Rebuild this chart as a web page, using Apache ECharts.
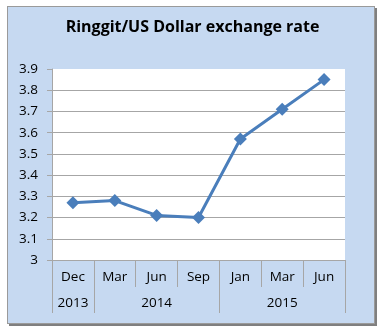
<!DOCTYPE html>
<html>
<head>
<meta charset="utf-8">
<script src="https://cdn.jsdelivr.net/npm/echarts@6/dist/echarts.min.js"></script>
<style>
  html, body { margin: 0; padding: 0; background: #ffffff; }
  #box { position: absolute; left: 7px; top: 6px; width: 366px; height: 316px;
         background: #c6d9f1; border: 1px solid #9a9a9a;
         box-shadow: 2px 2px 0 #7f7f7f; }
  #chart { position: absolute; left: 0; top: 0; width: 385px; height: 334px; }
</style>
</head>
<body>
<div id="box"></div>
<div id="chart"></div>
<script>
const months = ['Dec', 'Mar', 'Jun', 'Sep', 'Jan', 'Mar', 'Jun'];
const rates = [3.27, 3.28, 3.21, 3.20, 3.57, 3.71, 3.85];
const years = ['2013', '2014', '2015'];
const yearSpans = [1, 3, 3];
const yTicks = ['3', '3.1', '3.2', '3.3', '3.4', '3.5', '3.6', '3.7', '3.8', '3.9'];

// second-level axis: one slot per month, year label placed at group centre
const yearSlots = [];
const yearBoundaries = {};
let idx = 0;
years.forEach(function (y, g) {
  const span = yearSpans[g];
  yearBoundaries[idx] = true;
  for (let k = 0; k < span; k++) {
    yearSlots.push(k === Math.floor(span / 2) ? y : '');
  }
  idx += span;
});

const labelFont = { fontFamily: 'Open Sans', fontSize: 13.5, color: '#000000' };
const gridColors = yTicks.map(function (t, i) { return i === yTicks.length - 1 ? '#ffffff' : '#a6a6a6'; });

const chart = echarts.init(document.getElementById('chart'), null, { renderer: 'canvas' });
chart.setOption({
  backgroundColor: 'transparent',
  animation: false,
  title: {
    text: 'Ringgit/US Dollar exchange rate',
    left: 'center',
    top: 19,
    padding: 0,
    textStyle: { fontFamily: 'Open Sans', fontWeight: 'bold', fontSize: 16, color: '#000000' }
  },
  grid: {
    left: 52, right: 40, top: 69, bottom: 74,
    show: true, backgroundColor: '#ffffff', borderWidth: 0
  },
  xAxis: [
    {
      type: 'category',
      data: months,
      position: 'bottom',
      boundaryGap: true,
      axisLine: { show: true, lineStyle: { color: '#a6a6a6', width: 1 } },
      axisTick: { show: true, length: 27, lineStyle: { color: '#a6a6a6' } },
      axisLabel: Object.assign({ margin: 10, interval: 0 }, labelFont),
      splitLine: { show: false }
    },
    {
      type: 'category',
      data: yearSlots,
      position: 'bottom',
      boundaryGap: true,
      axisLine: { show: false },
      axisTick: {
        show: true, length: 53,
        interval: function (i) { return !!yearBoundaries[i]; },
        lineStyle: { color: '#a6a6a6' }
      },
      axisLabel: Object.assign({ margin: 36, interval: 0 }, labelFont),
      splitLine: { show: false }
    }
  ],
  yAxis: {
    type: 'value',
    min: 3, max: 3.9, interval: 0.1,
    axisLine: { show: true, lineStyle: { color: '#a6a6a6' } },
    axisTick: { show: true, length: 5, lineStyle: { color: '#a6a6a6' } },
    axisLabel: Object.assign({
      margin: 14,
      formatter: function (v) {
        const i = Math.round((v - 3) * 10);
        return yTicks[i];
      }
    }, labelFont),
    splitLine: { show: true, lineStyle: { color: gridColors, width: 1 } }
  },
  series: [{
    type: 'line',
    xAxisIndex: 0,
    data: rates,
    symbol: 'diamond',
    symbolSize: 13,
    lineStyle: { color: '#4a7ebb', width: 3 },
    itemStyle: { color: '#4a7ebb' }
  }]
});
</script>
</body>
</html>
